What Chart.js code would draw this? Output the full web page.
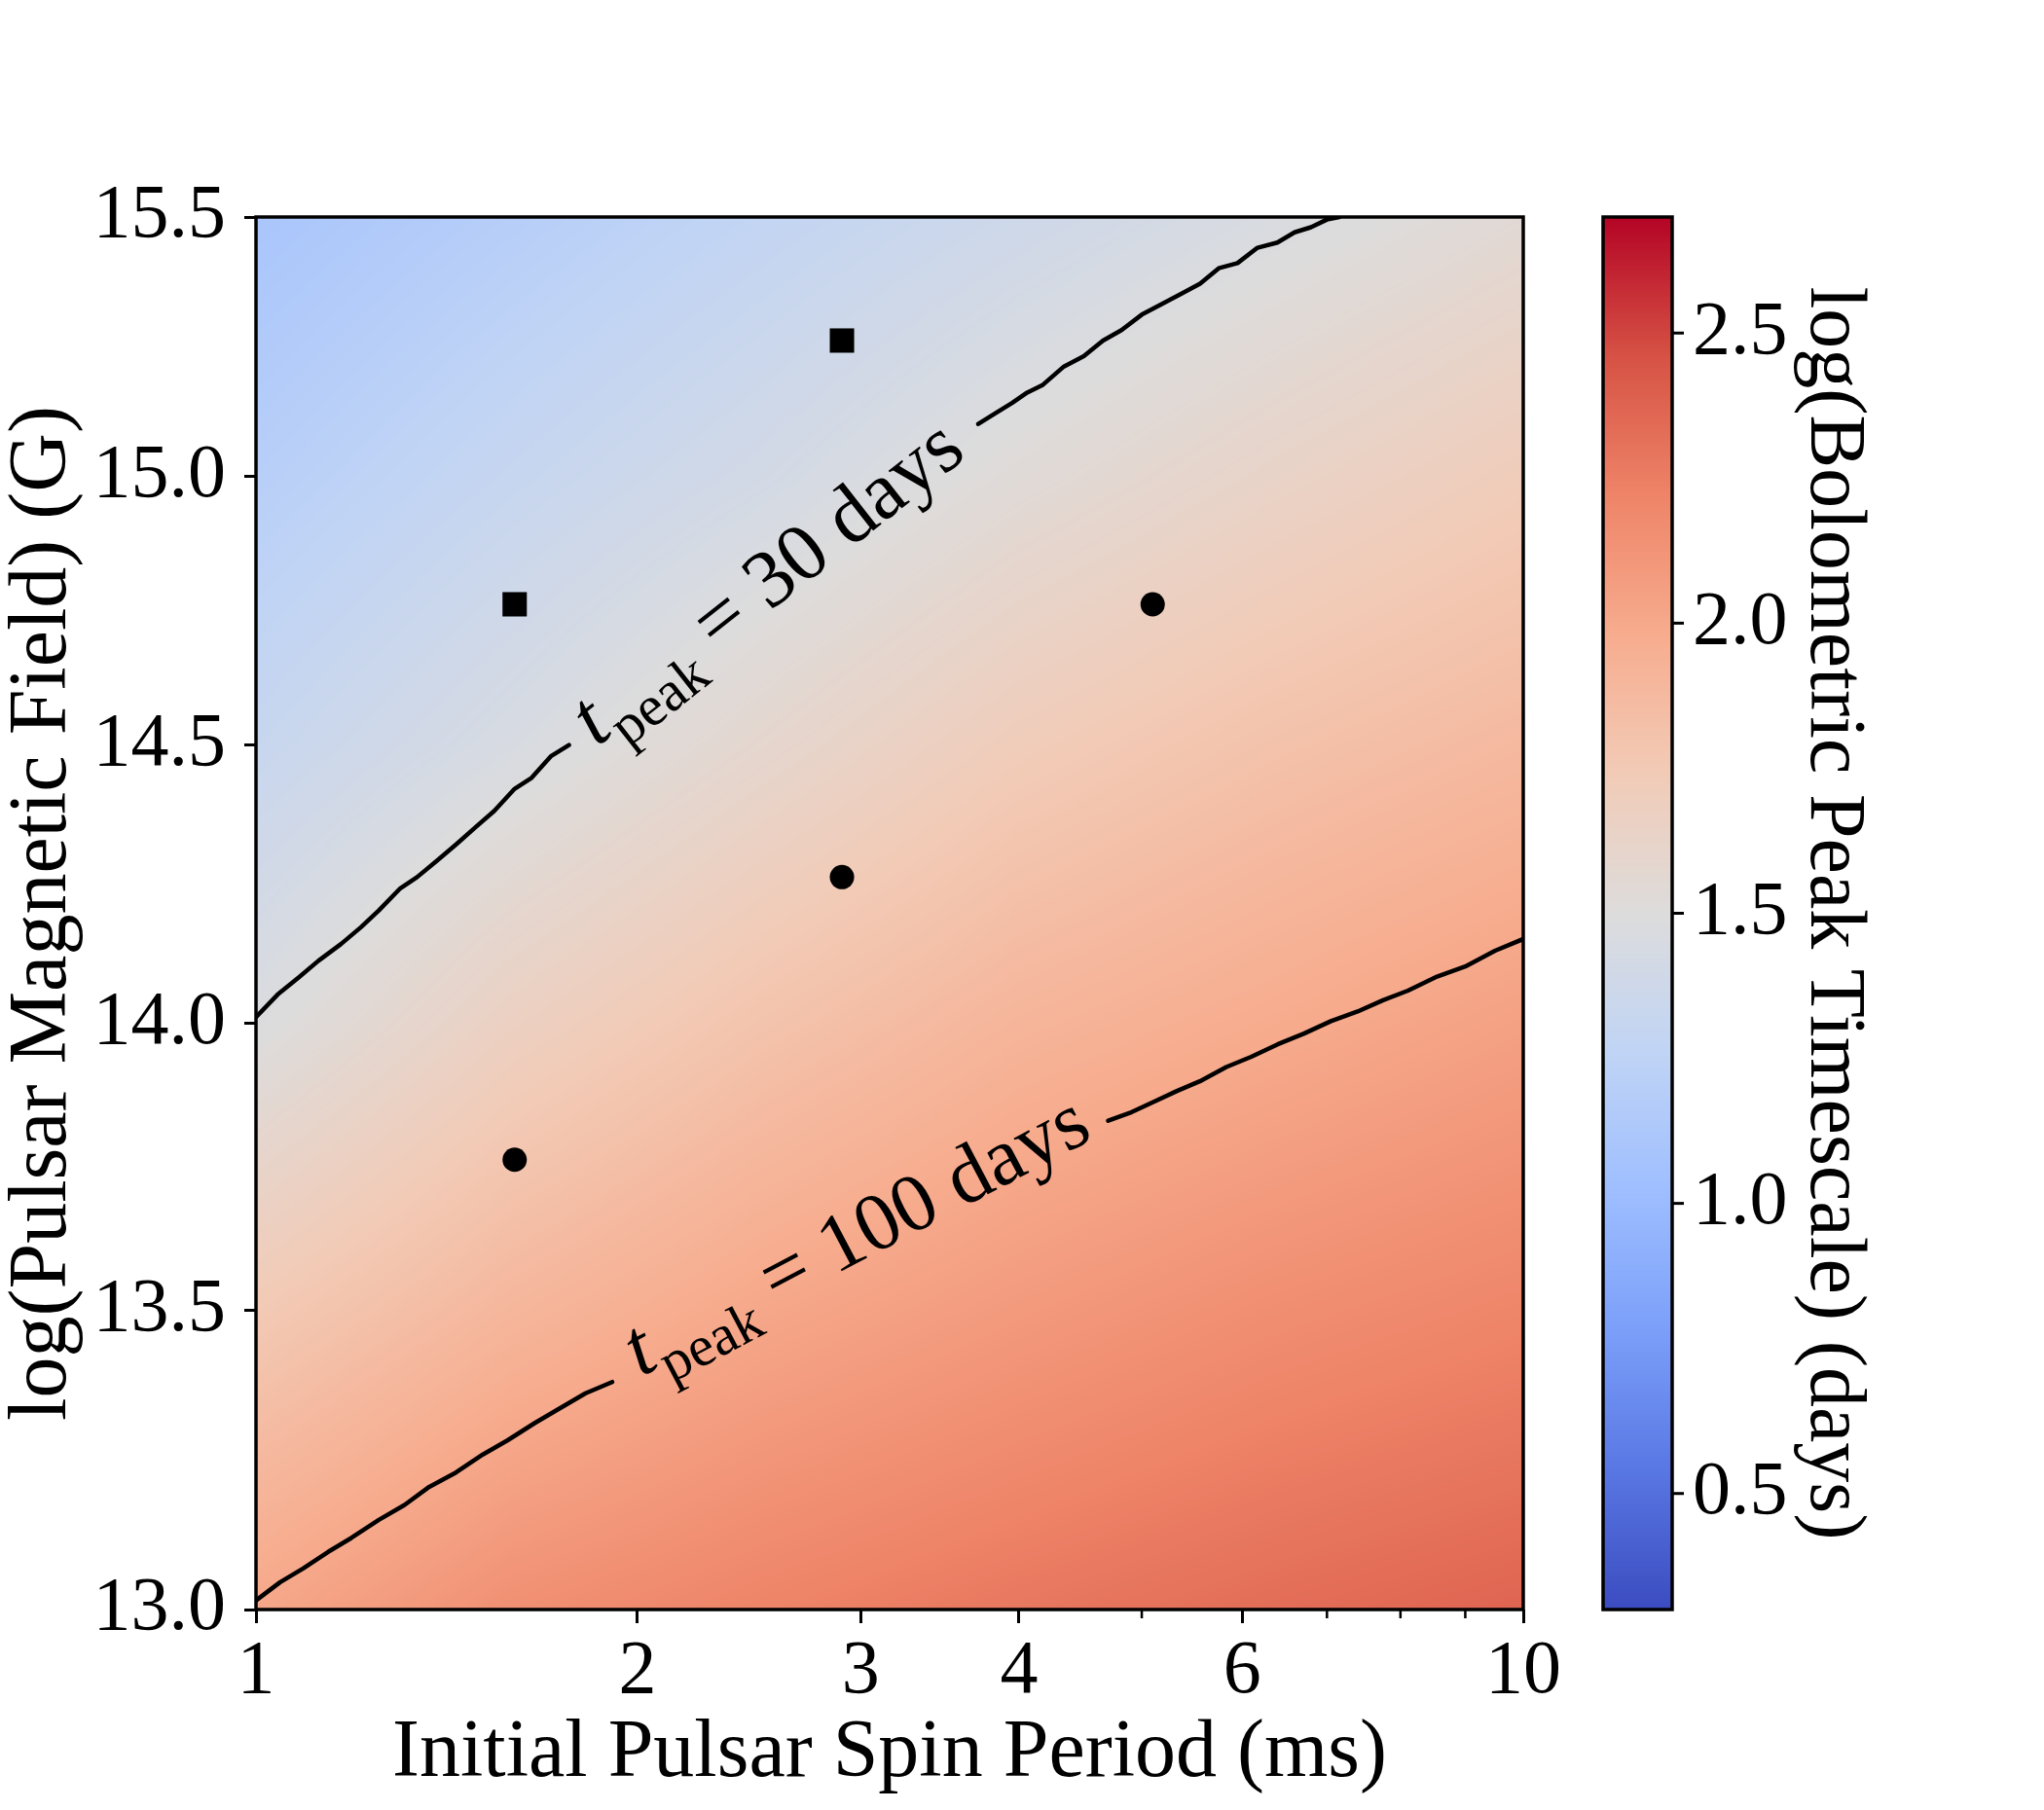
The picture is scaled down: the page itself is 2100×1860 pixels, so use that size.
<!DOCTYPE html>
<html><head><meta charset="utf-8">
<script src="https://cdn.jsdelivr.net/npm/chart.js@4.4.1/dist/chart.umd.min.js"></script>
<style>html,body{margin:0;padding:0;background:#fff;} canvas{display:block;}</style>
</head><body>
<canvas id="c" width="2100" height="1860"></canvas>
<script>
// ---------------- data ----------------
// heat-map grid: columns = initial spin period (ms), rows = log magnetic field (G)
const gridPeriods = [1.0, 1.585, 2.512, 3.981, 6.310, 10.0];
const gridFields  = [13.0, 13.5, 14.0, 14.5, 15.0, 15.5];
// log(bolometric peak timescale / days), one array per field row
const row130 = [2.01, 2.15, 2.22, 2.28, 2.33, 2.37];
const row135 = [1.75, 1.90, 2.01, 2.09, 2.16, 2.21];
const row140 = [1.48, 1.67, 1.80, 1.91, 1.98, 2.05];
const row145 = [1.32, 1.45, 1.59, 1.72, 1.81, 1.88];
const row150 = [1.20, 1.31, 1.41, 1.53, 1.63, 1.72];
const row155 = [1.10, 1.19, 1.28, 1.37, 1.46, 1.55];

// contour t_peak = 30 days (null = gap for the inline label)
const contour30P = [1.000, 1.040, 1.080, 1.120, 1.167, 1.210, 1.250, 1.300, 1.340, 1.390, 1.440, 1.490, 1.542, 1.600, 1.650, 1.710, 1.766, null, 3.715, 3.830, 3.950, 4.060, 4.178, 4.340, 4.500, 4.660, 4.819, 5.000, 5.180, 5.370, 5.559, 5.750, 5.950, 6.170, 6.397, 6.600, 6.800, 7.000, 7.161];
const contour30B = [14.01, 14.05, 14.08, 14.11, 14.14, 14.17, 14.20, 14.24, 14.26, 14.29, 14.32, 14.35, 14.38, 14.42, 14.44, 14.48, 14.50, null, 15.10, 15.12, 15.14, 15.16, 15.175, 15.21, 15.23, 15.26, 15.28, 15.31, 15.33, 15.35, 15.37, 15.40, 15.41, 15.44, 15.45, 15.47, 15.48, 15.495, 15.50];
// contour t_peak = 100 days
const contour100P = [1.000, 1.045, 1.090, 1.140, 1.189, 1.250, 1.310, 1.370, 1.438, 1.510, 1.580, 1.660, 1.738, 1.820, 1.910, null, 4.704, 4.910, 5.120, 5.330, 5.556, 5.830, 6.100, 6.400, 6.714, 7.050, 7.400, 7.750, 8.110, 8.550, 9.000, 9.500, 10.0];
const contour100B = [13.015, 13.045, 13.068, 13.095, 13.118, 13.148, 13.173, 13.203, 13.227, 13.257, 13.281, 13.310, 13.335, 13.360, 13.379, null, 13.828, 13.843, 13.862, 13.880, 13.897, 13.922, 13.940, 13.962, 13.981, 14.003, 14.020, 14.040, 14.057, 14.082, 14.100, 14.128, 14.149];

// inline contour labels
const contourLabelText = ['30 days', '100 days'];
const contourLabelP = [2.562, 3.003];
const contourLabelB = [14.785, 13.612];

// example models
const squareP = [1.6, 2.9];
const squareB = [14.76, 15.26];
const circleP = [1.6, 2.9, 5.1];
const circleB = [13.76, 14.26, 14.76];

// ticks
const xTickValues = [1, 2, 3, 4, 6, 10];
const xMinorTickValues = [5, 7, 8, 9];
const yTickValues = [13.0, 13.5, 14.0, 14.5, 15.0, 15.5];
const cbTickValues = [0.5, 1.0, 1.5, 2.0, 2.5];
const cbMin = 0.3, cbMax = 2.7;

// coolwarm colormap anchors (0, 0.1, ..., 1)
const coolwarm = [[59,76,192],[89,119,227],[123,159,249],[158,190,255],[192,212,245],[221,220,220],[242,203,183],[247,172,142],[238,132,104],[214,82,68],[180,4,38]];

// ---------------- helpers ----------------
const gridValues = [row130, row135, row140, row145, row150, row155];
function cmap(t) {
  t = Math.max(0, Math.min(1, t));
  const f = t * (coolwarm.length - 1);
  const i = Math.min(coolwarm.length - 2, Math.floor(f));
  const u = f - i;
  const a = coolwarm[i], b = coolwarm[i + 1];
  return [a[0] + (b[0] - a[0]) * u, a[1] + (b[1] - a[1]) * u, a[2] + (b[2] - a[2]) * u];
}
function findCell(arr, v) {
  let i = 0;
  while (i < arr.length - 2 && v > arr[i + 1]) i++;
  const t = (v - arr[i]) / (arr[i + 1] - arr[i]);
  return [i, Math.max(0, Math.min(1, t))];
}
const gridLogP = gridPeriods.map(Math.log10);
function fieldValue(P, B) {
  const [ci, cu] = findCell(gridLogP, Math.log10(P));
  const [ri, rv] = findCell(gridFields, B);
  const v00 = gridValues[ri][ci], v01 = gridValues[ri][ci + 1];
  const v10 = gridValues[ri + 1][ci], v11 = gridValues[ri + 1][ci + 1];
  return (v00 * (1 - cu) + v01 * cu) * (1 - rv) + (v10 * (1 - cu) + v11 * cu) * rv;
}

Chart.defaults.font.family = "'Liberation Serif', 'DejaVu Serif', serif";
Chart.defaults.color = '#000';

const heatmapPlugin = {
  id: 'heatmap',
  beforeDatasetsDraw(chart) {
    const {ctx, chartArea} = chart;
    const xs = chart.scales.x, ys = chart.scales.y, cb = chart.scales.cb;
    const left = Math.round(chartArea.left), top = Math.round(chartArea.top);
    const w = Math.round(chartArea.right) - left, h = Math.round(chartArea.bottom) - top;
    const img = ctx.createImageData(w, h);
    const Ps = new Float64Array(w), Bs = new Float64Array(h);
    for (let i = 0; i < w; i++) Ps[i] = xs.getValueForPixel(left + i + 0.5);
    for (let j = 0; j < h; j++) Bs[j] = ys.getValueForPixel(top + j + 0.5);
    const range = cb.max - cb.min;
    for (let j = 0; j < h; j++) {
      for (let i = 0; i < w; i++) {
        const c = cmap((fieldValue(Ps[i], Bs[j]) - cb.min) / range);
        const k = (j * w + i) * 4;
        img.data[k] = c[0]; img.data[k + 1] = c[1]; img.data[k + 2] = c[2]; img.data[k + 3] = 255;
      }
    }
    ctx.putImageData(img, left, top);
  }
};

const framePlugin = {
  id: 'frame',
  afterDatasetsDraw(chart) {
    const {ctx, chartArea} = chart;
    ctx.save();
    ctx.strokeStyle = '#000'; ctx.lineWidth = 3.5;
    ctx.strokeRect(chartArea.left, chartArea.top, chartArea.right - chartArea.left, chartArea.bottom - chartArea.top);
    // minor x ticks
    const xs = chart.scales.x;
    ctx.lineWidth = 2.5;
    ctx.beginPath();
    xMinorTickValues.forEach(v => {
      const px = xs.getPixelForValue(v);
      ctx.moveTo(px, chartArea.bottom); ctx.lineTo(px, chartArea.bottom + 9);
    });
    ctx.stroke();
    ctx.restore();
  }
};

function drawContourLabel(ctx, chart, text, P, B, cp, cbv) {
  const xs = chart.scales.x, ys = chart.scales.y;
  const gap = cp.indexOf(null);
  const x1 = xs.getPixelForValue(cp[gap - 1]), y1 = ys.getPixelForValue(cbv[gap - 1]);
  const x2 = xs.getPixelForValue(cp[gap + 1]), y2 = ys.getPixelForValue(cbv[gap + 1]);
  const ang = Math.atan2(y2 - y1, x2 - x1);
  const cx = xs.getPixelForValue(P), cy = ys.getPixelForValue(B);
  const F = 84;
  const fT = "italic " + F + "px 'Liberation Serif'";
  const fS = Math.round(F * 0.7) + "px 'Liberation Serif'";
  const fR = F + "px 'Liberation Serif'";
  const rest = ' = ' + text;
  ctx.save();
  ctx.translate(cx, cy); ctx.rotate(ang);
  ctx.fillStyle = '#000'; ctx.textBaseline = 'alphabetic'; ctx.textAlign = 'left';
  ctx.font = fT; const wT = ctx.measureText('t').width + 2;
  ctx.font = fS; const wS = ctx.measureText('peak').width;
  ctx.font = fR; const wR = ctx.measureText(rest).width;
  const W = wT + wS + wR;
  let x = -W / 2; const base = F * 0.17;
  ctx.font = fT; ctx.fillText('t', x, base); x += wT;
  ctx.font = fS; ctx.fillText('peak', x, base + F * 0.24); x += wS;
  ctx.font = fR; ctx.fillText(rest, x, base);
  ctx.restore();
}

const labelPlugin = {
  id: 'clabels',
  afterDatasetsDraw(chart) {
    const ctx = chart.ctx;
    drawContourLabel(ctx, chart, contourLabelText[0], contourLabelP[0], contourLabelB[0], contour30P, contour30B);
    drawContourLabel(ctx, chart, contourLabelText[1], contourLabelP[1], contourLabelB[1], contour100P, contour100B);
  }
};

const colorbarPlugin = {
  id: 'colorbar',
  afterDraw(chart) {
    const {ctx} = chart;
    const cb = chart.scales.cb;
    const x0 = 1647, x1 = 1718;
    const top = Math.round(cb.top), bottom = Math.round(cb.bottom);
    ctx.save();
    for (let py = top; py < bottom; py++) {
      const v = cb.getValueForPixel(py + 0.5);
      const c = cmap((v - cb.min) / (cb.max - cb.min));
      ctx.fillStyle = 'rgb(' + c.map(Math.round).join(',') + ')';
      ctx.fillRect(x0, py, x1 - x0, 1);
    }
    ctx.strokeStyle = '#000'; ctx.lineWidth = 3.5;
    ctx.strokeRect(x0, cb.top, x1 - x0, cb.bottom - cb.top);
    ctx.lineWidth = 3;
    ctx.font = "78px 'Liberation Serif'"; ctx.fillStyle = '#000';
    ctx.textAlign = 'left'; ctx.textBaseline = 'middle';
    cbTickValues.forEach(v => {
      const py = cb.getPixelForValue(v);
      ctx.beginPath(); ctx.moveTo(x1, py); ctx.lineTo(x1 + 12, py); ctx.stroke();
      ctx.fillText(v.toFixed(1), x1 + 21, py);
    });
    ctx.translate(1883, (cb.top + cb.bottom) / 2);
    ctx.rotate(Math.PI / 2);
    ctx.textAlign = 'center'; ctx.textBaseline = 'middle';
    ctx.font = "82px 'Liberation Serif'";
    ctx.fillText('log(Bolometric Peak Timescale) (days)', 0, 0);
    ctx.restore();
  }
};

const pts = (xa, ya) => xa.map((p, i) => ({x: p, y: ya[i]}));

new Chart(document.getElementById('c'), {
  type: 'scatter',
  data: {
    datasets: [
      {type: 'line', data: pts(contour30P, contour30B), borderColor: '#000', borderWidth: 4.5, borderJoinStyle: 'round', borderCapStyle: 'round', pointRadius: 0, spanGaps: false, tension: 0, fill: false},
      {type: 'line', data: pts(contour100P, contour100B), borderColor: '#000', borderWidth: 4.5, borderJoinStyle: 'round', borderCapStyle: 'round', pointRadius: 0, spanGaps: false, tension: 0, fill: false},
      {type: 'scatter', data: pts(squareP, squareB), pointStyle: 'rect', pointRadius: 17.7, backgroundColor: '#000', borderWidth: 0},
      {type: 'scatter', data: pts(circleP, circleB), pointStyle: 'circle', pointRadius: 12.5, backgroundColor: '#000', borderWidth: 0}
    ]
  },
  options: {
    responsive: false, devicePixelRatio: 1, animation: false,
    layout: {padding: {top: 223, right: 535, left: 0, bottom: 0}},
    plugins: {legend: {display: false}, tooltip: {enabled: false}},
    scales: {
      x: {
        type: 'logarithmic', min: 1, max: 10, position: 'bottom',
        afterBuildTicks: s => { s.ticks = xTickValues.map(v => ({value: v})); },
        afterFit: s => { s.height = 206; },
        ticks: {callback: v => String(v), font: {size: 78}, color: '#000', padding: 4, maxRotation: 0, autoSkip: false},
        grid: {drawOnChartArea: false, tickLength: 14, color: '#000', lineWidth: 3},
        border: {display: false},
        title: {display: true, text: 'Initial Pulsar Spin Period (ms)', font: {size: 84, lineHeight: 1}, color: '#000', padding: {top: 0, bottom: 15}}
      },
      y: {
        type: 'logarithmic', min: 13, max: 15.5, position: 'left',
        afterBuildTicks: s => { s.ticks = yTickValues.map(v => ({value: v})); },
        afterFit: s => { s.width = 263; },
        ticks: {callback: v => Number(v).toFixed(1), font: {size: 78}, color: '#000', padding: 19, autoSkip: false},
        grid: {drawOnChartArea: false, tickLength: 12, color: '#000', lineWidth: 3},
        border: {display: false},
        title: {display: true, text: 'log(Pulsar Magnetic Field) (G)', font: {size: 84, lineHeight: 1}, color: '#000', padding: {top: 3, bottom: 0}}
      },
      cb: {type: 'linear', min: cbMin, max: cbMax, position: 'right', display: false}
    }
  },
  plugins: [heatmapPlugin, framePlugin, labelPlugin, colorbarPlugin]
});
</script>
</body></html>
